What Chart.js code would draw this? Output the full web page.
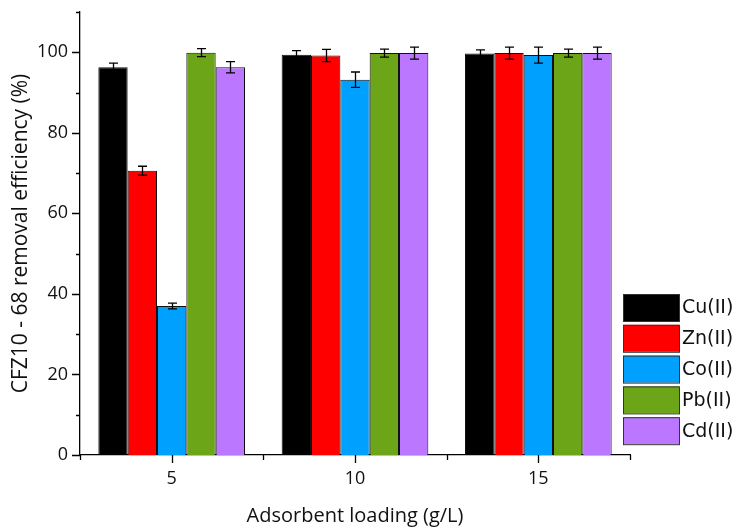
<!DOCTYPE html>
<html lang="en">
<head>
    <meta charset="UTF-8">
    <title>Removal efficiency vs adsorbent loading</title>
    <script src="https://cdn.jsdelivr.net/npm/chart.js"></script>
    <style>
        body { margin: 0; background: #fff; }
        canvas { display: block; }
    </style>
</head>
<body>
    <canvas id="chart" width="736" height="528"></canvas>
    <script>
        // data
        const loadings = ["5", "10", "15"];
        const metals = ["Cu(II)", "Zn(II)", "Co(II)", "Pb(II)", "Cd(II)"];
        const colors = ["#000000", "#ff0000", "#00a0ff", "#6ca618", "#bb77ff"];

        const cuValues = [96.3, 99.4, 99.7];
        const znValues = [70.6, 99.2, 99.8];
        const coValues = [37.0, 93.2, 99.3];
        const pbValues = [99.9, 99.8, 99.8];
        const cdValues = [96.3, 99.8, 99.8];

        const cuErrors = [1.0, 1.0, 0.9];
        const znErrors = [1.1, 1.5, 1.5];
        const coErrors = [0.7, 1.9, 2.0];
        const pbErrors = [1.0, 1.0, 1.0];
        const cdErrors = [1.4, 1.5, 1.5];

        const allValues = [cuValues, znValues, coValues, pbValues, cdValues];
        const allErrors = [cuErrors, znErrors, coErrors, pbErrors, cdErrors];

        const textColor = '#111';

        // tick marks: long ones at labelled values, short ones in between
        const axisTicks = {
            id: 'axisTicks',
            afterDraw(chart) {
                const { ctx, chartArea, scales: { x, y } } = chart;
                ctx.save();
                ctx.strokeStyle = '#000';
                ctx.lineWidth = 1.3;
                ctx.beginPath();
                y.ticks.forEach(t => {
                    const py = Math.round(y.getPixelForValue(t.value)) + 0.5;
                    const len = (t.value % 20 === 0) ? 8 : 4;
                    ctx.moveTo(chartArea.left, py);
                    ctx.lineTo(chartArea.left - len, py);
                });
                loadings.forEach((_, i) => {
                    const px = Math.round(x.getPixelForValue(i)) + 0.5;
                    ctx.moveTo(px, chartArea.bottom);
                    ctx.lineTo(px, chartArea.bottom + 8);
                });
                for (let i = 0; i <= loadings.length; i++) {
                    const px = Math.round(x.getPixelForValue(i - 0.5)) + 0.5;
                    ctx.moveTo(px, chartArea.bottom);
                    ctx.lineTo(px, chartArea.bottom + 5);
                }
                ctx.stroke();
                ctx.restore();
            }
        };

        const errorBars = {
            id: 'errorBars',
            afterDatasetsDraw(chart) {
                const { ctx, scales: { y } } = chart;
                ctx.save();
                ctx.strokeStyle = '#000';
                ctx.lineWidth = 1.3;
                chart.data.datasets.forEach((ds, di) => {
                    const meta = chart.getDatasetMeta(di);
                    meta.data.forEach((bar, j) => {
                        const v = ds.data[j], e = ds.errors[j];
                        const top = y.getPixelForValue(v + e);
                        const bot = y.getPixelForValue(v - e);
                        const cx = Math.round(bar.x) + 0.5;
                        ctx.beginPath();
                        ctx.moveTo(cx, top); ctx.lineTo(cx, bot);
                        ctx.moveTo(cx - 4.5, top); ctx.lineTo(cx + 4.5, top);
                        ctx.moveTo(cx - 4.5, bot); ctx.lineTo(cx + 4.5, bot);
                        ctx.stroke();
                    });
                });
                ctx.restore();
            }
        };

        const boxLegend = {
            id: 'boxLegend',
            afterDraw(chart) {
                const ctx = chart.ctx;
                const left = 623, top = 294, w = 56, h = 27, step = 30.8;
                ctx.save();
                ctx.font = '19px "DejaVu Sans"';
                ctx.textBaseline = 'middle';
                chart.data.datasets.forEach((ds, i) => {
                    const y0 = top + i * step;
                    ctx.fillStyle = ds.backgroundColor;
                    ctx.fillRect(left, y0, w, h);
                    ctx.strokeStyle = '#333';
                    ctx.lineWidth = 1;
                    ctx.strokeRect(left + 0.5, y0 + 0.5, w, h);
                    ctx.fillStyle = textColor;
                    ctx.fillText(ds.label, left + w + 3, y0 + h / 2 + 1);
                });
                ctx.restore();
            }
        };

        new Chart(document.getElementById('chart'), {
            type: 'bar',
            data: {
                labels: loadings,
                datasets: metals.map((m, i) => ({
                    label: m,
                    data: allValues[i],
                    errors: allErrors[i],
                    backgroundColor: colors[i],
                    borderColor: '#111',
                    borderWidth: 1,
                    categoryPercentage: 0.8,
                    barPercentage: 1.0
                }))
            },
            options: {
                responsive: false,
                animation: false,
                layout: { padding: { top: 12, right: 106, left: 0, bottom: 0 } },
                plugins: {
                    legend: { display: false },
                    tooltip: { enabled: false }
                },
                scales: {
                    x: {
                        grid: { display: false, drawTicks: false },
                        border: { display: true, color: '#000', width: 1.3 },
                        ticks: {
                            color: textColor,
                            padding: 13,
                            font: { family: 'Open Sans', size: 18 }
                        },
                        title: {
                            display: true,
                            text: 'Adsorbent loading (g/L)',
                            color: textColor,
                            font: { family: 'Open Sans', size: 20 },
                            padding: { top: 0, bottom: 0 }
                        },
                        afterFit: s => { s.height = 73; }
                    },
                    y: {
                        min: 0,
                        max: 110,
                        grid: { display: false, drawTicks: false },
                        border: { display: true, color: '#000', width: 1.3 },
                        ticks: {
                            stepSize: 10,
                            color: textColor,
                            padding: 12,
                            font: { family: 'Open Sans', size: 18 },
                            callback: v => (v % 20 === 0 && v <= 100) ? v : ''
                        },
                        title: {
                            display: true,
                            text: 'CFZ10 - 68 removal efficiency (%)',
                            color: textColor,
                            font: { family: 'Open Sans', size: 21 },
                            padding: { top: 8, bottom: 0 }
                        },
                        afterFit: s => {
                            s.width = 80;
                            s.paddingTop = 0;
                            s.paddingBottom = 0;
                        }
                    }
                }
            },
            plugins: [errorBars, axisTicks, boxLegend]
        });
    </script>
</body>
</html>
